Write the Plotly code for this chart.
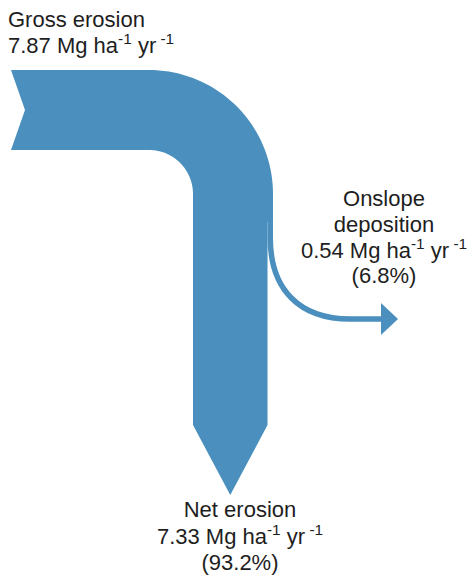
import numpy as np
import plotly.graph_objects as go

# Sediment budget (Mg ha-1 yr-1)
flow_names = ["Gross erosion", "Net erosion", "Onslope deposition"]
flow_values = [7.87, 7.33, 0.54]
flow_shares = [None, 93.2, 6.8]  # percent of gross erosion

BLUE = "#4a8fbd"
TEXT = "#1e1e1e"
FONT = "Liberation Sans, Arial, sans-serif"
FS = 22

gross, net, dep = flow_values

# canvas uses pixel-like units; band widths scale with the flows
FIG_W, FIG_H = 476, 583
SCALE = 80.0 / gross           # px per Mg ha-1 yr-1
w_gross = gross * SCALE
w_net = net * SCALE
w_dep = dep * SCALE

top = 70.0
bottom = top + w_gross
x0 = 11.0
notch = 14.0
cx = 149.0
R = 124.0
cy = top + R
r = R - w_gross
right = cx + R
left = cx + r
split_y = 222.0
arrow_y = 425.0
arrow_len = 70.0
net_right = left + w_net
tip_x = left + w_net / 2


def arc(radius, a0, a1, n=40):
    t = np.linspace(a0, a1, n)
    return [(cx + radius * np.cos(a), cy + radius * np.sin(a)) for a in t]


pts = [(x0, top), (cx, top)]
pts += arc(R, -np.pi / 2, 0)
pts += [(right, split_y), (net_right, split_y), (net_right, arrow_y),
        (tip_x, arrow_y + arrow_len), (left, arrow_y), (left, cy)]
pts += arc(r, 0, -np.pi / 2)
pts += [(x0, bottom), (x0 + notch, (top + bottom) / 2)]
main_path = "M " + " L ".join(f"{x:.2f},{y:.2f}" for x, y in pts) + " Z"

# deposition branch: leaves the right edge and bends towards the right
xd = right - w_dep / 2
yh = 319.0
dep_end = 382.0
dep_path = (f"M {xd:.2f},{split_y - 3:.2f} L {xd:.2f},238 "
            f"C {xd:.2f},290 300,{yh} 350,{yh} L {dep_end},{yh}")
head = 16.0
dep_head = (f"M {dep_end - 1},{yh - head} L {dep_end + head},{yh} "
            f"L {dep_end - 1},{yh + head} Z")

fig = go.Figure()

fig.add_shape(type="path", path=main_path, fillcolor=BLUE,
              line=dict(width=0), layer="above")
fig.add_shape(type="path", path=dep_path, fillcolor="rgba(0,0,0,0)",
              line=dict(color=BLUE, width=w_dep), layer="above")
fig.add_shape(type="path", path=dep_head, fillcolor=BLUE,
              line=dict(width=0), layer="above")

unit = "Mg ha<sup>-1</sup> yr<sup> -1</sup>"
CAP = 0.35 * FS  # baseline offset from the middle of a text line


def text_block(x, baselines, lines, position):
    fig.add_trace(go.Scatter(
        x=[x] * len(lines), y=[b - CAP for b in baselines],
        mode="text", text=lines, textposition=position,
        textfont=dict(family=FONT, size=FS, color=TEXT),
        hoverinfo="skip", showlegend=False))


text_block(8, [29, 55],
           [flow_names[0], f"{flow_values[0]:.2f} {unit}"],
           "middle right")
text_block(384, [208, 234, 260, 285],
           ["Onslope", "deposition", f"{flow_values[2]:.2f} {unit}",
            f"({flow_shares[2]:.1f}%)"],
           "middle center")
text_block(240, [519, 546, 572],
           [flow_names[1], f"{flow_values[1]:.2f} {unit}",
            f"({flow_shares[1]:.1f}%)"],
           "middle center")

fig.update_xaxes(range=[0, FIG_W], visible=False, fixedrange=True)
fig.update_yaxes(range=[FIG_H, 0], visible=False, fixedrange=True)
fig.update_layout(width=FIG_W, height=FIG_H,
                  margin=dict(l=0, r=0, t=0, b=0),
                  paper_bgcolor="white", plot_bgcolor="white",
                  showlegend=False)

fig.write_html("out.html")
